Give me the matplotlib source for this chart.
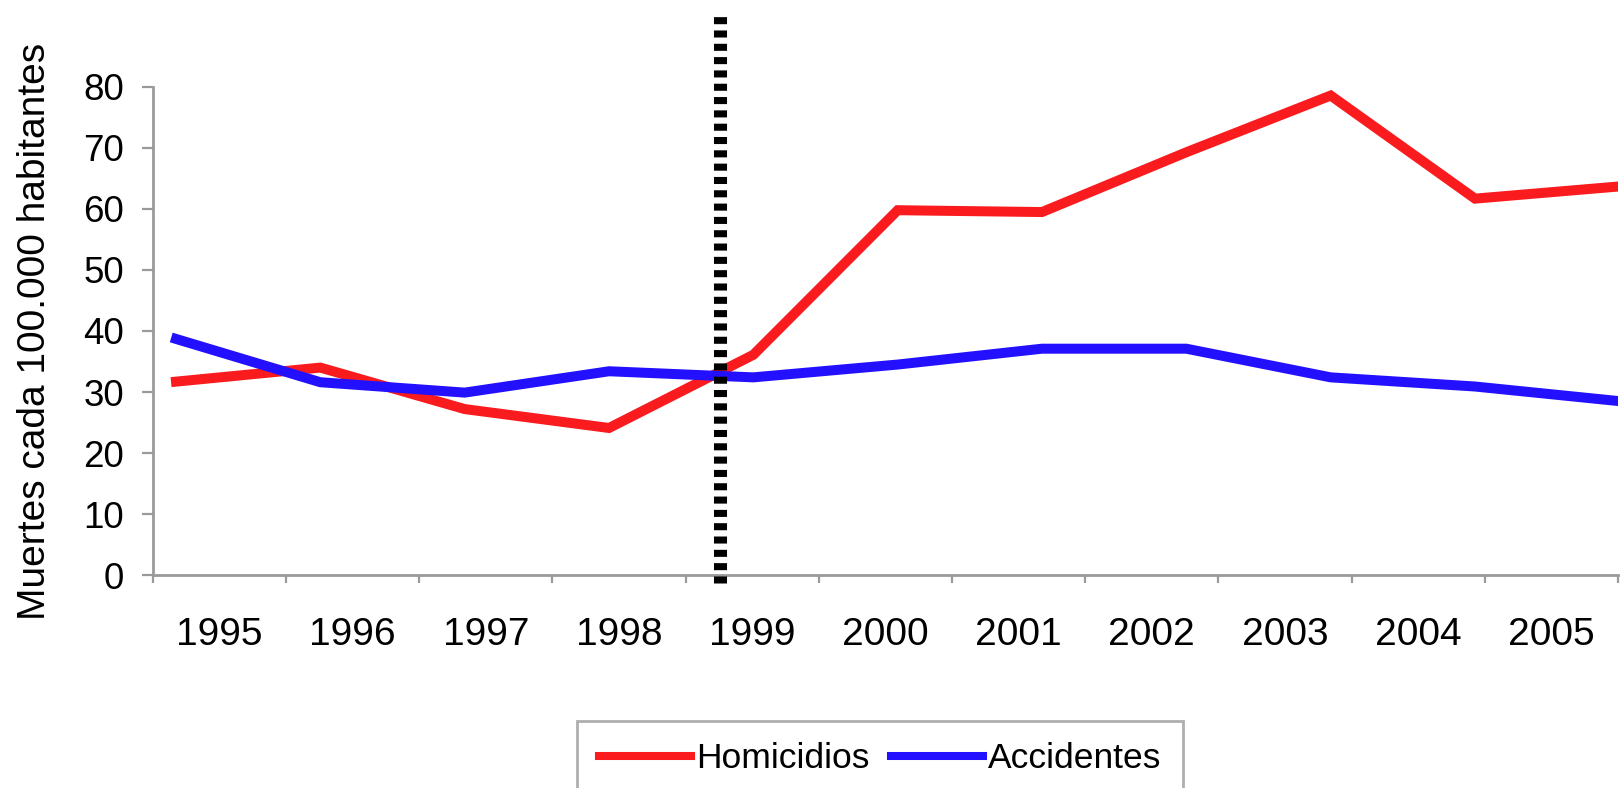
import numpy as np
import matplotlib
matplotlib.use("Agg")
import matplotlib.pyplot as plt

plt.rcParams['font.family'] = ['Liberation Sans', 'DejaVu Sans']

anios = [1995, 1996, 1997, 1998, 1999, 2000, 2001, 2002, 2003, 2004, 2005]
homicidios = [31.7, 34.0, 27.2, 24.1, 36.1, 59.8, 59.5, 69.3, 78.6, 61.7, 63.7]
accidentes = [38.7, 31.6, 29.9, 33.4, 32.4, 34.5, 37.1, 37.1, 32.4, 30.9, 28.5]
corte = 1998.77  # linea punteada entre 1998 y 1999
yticks = [0, 10, 20, 30, 40, 50, 60, 70, 80]

rojo = '#FA1B1E'
azul = '#2210FF'
gris = '#9A9A9A'

fig = plt.figure(figsize=(16.2, 7.88), dpi=100)
ax = fig.add_axes([0.0944, 0.2703, 0.9043, 0.6193])

# eje de categorias (marcas en los bordes, etiquetas al centro)
ax.set_xlim(0, len(anios))
ax.set_ylim(0, 80)
ax.set_xticks(np.arange(len(anios) + 1))
ax.set_xticklabels([])
ax.set_xticks(np.arange(len(anios)) + 0.5, minor=True)
ax.set_xticklabels([str(a) for a in anios], minor=True, fontsize=28)
ax.tick_params(axis='x', which='major', length=6, width=1.6, color=gris, direction='out')
ax.tick_params(axis='x', which='minor', length=0, pad=30)
ax.set_yticks(yticks)
ax.tick_params(axis='y', length=8, width=1.6, color=gris, labelsize=26.5, pad=13)
for s in ['top', 'right']:
    ax.spines[s].set_visible(False)
for s in ['left', 'bottom']:
    ax.spines[s].set_color(gris)
    ax.spines[s].set_linewidth(2)

# las lineas van en un eje gemelo con su propia escala de anios
ax2 = ax.twiny()
ax2.set_xlim(1994.84, 2004.99)
ax2.axis('off')
ax2.plot(anios, homicidios, color=rojo, lw=7.2, solid_joinstyle='miter', label='Homicidios')
ax2.plot(anios, accidentes, color=azul, lw=7.2, solid_joinstyle='miter', label='Accidentes')
ax2.axvline(corte, ymin=-0.016, ymax=1.152, color='black', lw=9.4,
            linestyle=(0, (0.54, 0.48)), dash_capstyle='butt', clip_on=False)

fig.text(35 / 1620, 1 - 331 / 788, 'Muertes cada 100.000 habitantes', rotation=90,
         fontsize=28, ha='center', va='center')

leg = fig.legend(loc='upper center', bbox_to_anchor=(880 / 1620, 1 - 721 / 788), ncol=2,
                 fontsize=25.5, handlelength=2.6, handletextpad=0.15, columnspacing=0.6,
                 fancybox=False, edgecolor=gris, borderpad=0.6, borderaxespad=0)
leg.get_frame().set_linewidth(2)
for h in leg.get_lines():
    h.set_linewidth(5.8)

fig.savefig('out.png', dpi=100)
